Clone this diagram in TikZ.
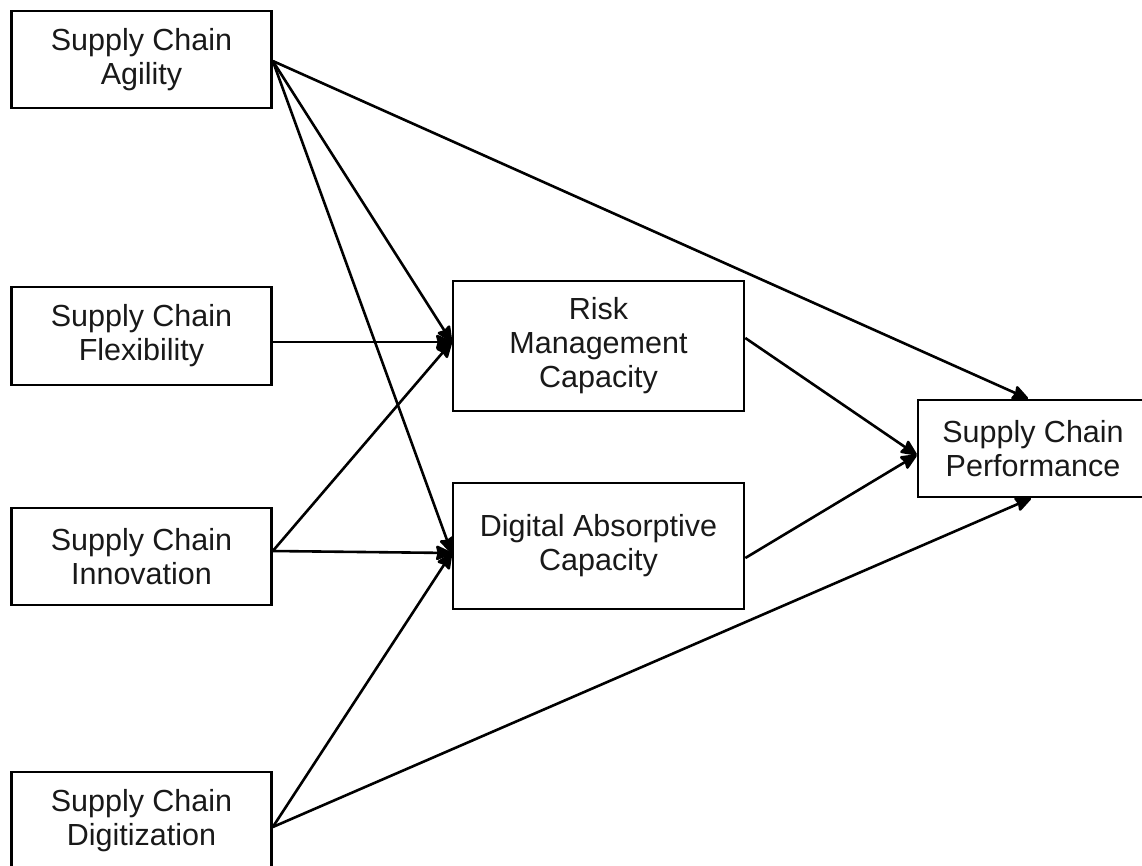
\documentclass[tikz,border=0pt]{standalone}
\usepackage{fontspec}
\setmainfont{Liberation Sans}
\usetikzlibrary{arrows.meta,calc}
\begin{document}
\begin{tikzpicture}[x=1pt,y=-1pt,
  box/.style={draw=black,line width=2.6pt,fill=white,inner sep=0pt,align=center,
    font=\fontsize{30.5}{34}\selectfont,text=black!90},
  tipstyle/.tip={Stealth[length=18pt,width=16pt,inset=2pt,round]},
  conn/.style={draw=black,line width=2.6pt,-tipstyle}]
\useasboundingbox (0,0) rectangle (1142,865);
\begin{scope}
\clip (0,0) rectangle (1142,865);
\node[box,minimum width=260,minimum height=97] (agi) at (141.5,59.5) {Supply Chain\\Agility};
\node[box,minimum width=260,minimum height=98] (flex) at (141.5,336) {Supply Chain\\Flexibility};
\node[box,minimum width=260,minimum height=97] (inno) at (141.5,556.5) {Supply Chain\\Innovation};
\node[box,minimum width=260,minimum height=97] (digi) at (141.5,820.5) {Supply Chain\\Digitization};
\node[box,minimum width=291,minimum height=130] (risk) at (598.5,346) {Risk\\Management\\Capacity};
\node[box,minimum width=291,minimum height=126] (dac) at (598.5,546) {Digital Absorptive\\Capacity};
\node[box,minimum width=230,minimum height=97] (perf) at (1033,448.5) {Supply Chain\\Performance};
\end{scope}
\coordinate (agiout) at ($(agi.east)+(0,1.5)$);
\coordinate (flexout) at ($(flex.east)+(0,6)$);
\coordinate (innoout) at ($(inno.east)+(0,-5.5)$);
\coordinate (digiout) at ($(digi.east)+(0,6.5)$);
\coordinate (riskin) at ($(risk.west)+(0,-4)$);
\coordinate (dacin) at ($(dac.west)+(0,7)$);
\coordinate (riskout) at ($(risk.east)+(0,-8)$);
\coordinate (dacout) at ($(dac.east)+(0,12)$);
\coordinate (perfin) at ($(perf.west)+(0,6.5)$);
\coordinate (perftop) at ($(perf.north)+(-5,0)$);
\coordinate (perfbot) at ($(perf.south)+(-2,0)$);
\draw[conn] (agiout) -- (riskin);
\draw[conn] (agiout) -- (dacin);
\draw[conn] (agiout) -- (perftop);
\draw[conn] (flexout) -- (riskin);
\draw[conn] (innoout) -- (riskin);
\draw[conn] (innoout) -- (dacin);
\draw[conn] (digiout) -- (dacin);
\draw[conn] (digiout) -- (perfbot);
\draw[conn] (riskout) -- (perfin);
\draw[conn] (dacout) -- (perfin);
\end{tikzpicture}
\end{document}
